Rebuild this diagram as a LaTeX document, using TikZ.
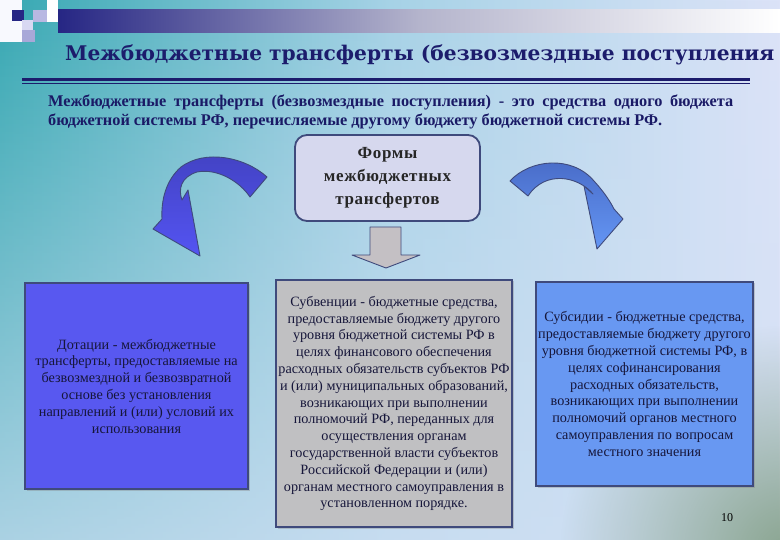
\documentclass[tikz,border=0pt]{standalone}
\usepackage{fontspec}
\setmainfont{Liberation Serif}
\newfontfamily\titlefont{DejaVu Serif}
\newfontfamily\formfont[LetterSpace=4]{Liberation Serif}
\usetikzlibrary{fadings,shadows}
\definecolor{bgL}{HTML}{36A8B2}
\definecolor{bgM}{HTML}{A6D2E6}
\definecolor{bgR}{HTML}{DCE3F8}
\definecolor{bgB}{HTML}{D2E0F4}
\definecolor{bgG}{HTML}{84A088}
\definecolor{navy}{HTML}{262684}
\definecolor{sqA}{HTML}{B8B8E2}
\definecolor{sqB}{HTML}{D8D8F2}
\definecolor{sqC}{HTML}{A8A8D8}
\definecolor{barM}{HTML}{B4B4CC}
\definecolor{titleC}{HTML}{1C1C6C}
\definecolor{paraC}{HTML}{1A1A66}
\definecolor{frameC}{HTML}{3F4A7C}
\definecolor{leftC}{HTML}{5858F0}
\definecolor{midC}{HTML}{C0C0C2}
\definecolor{rightC}{HTML}{6898F2}
\definecolor{formC}{HTML}{D6D8EE}
\definecolor{boxtextC}{HTML}{16163A}
\definecolor{arrLtop}{HTML}{4242C2}
\definecolor{arrLbot}{HTML}{5454F2}
\definecolor{arrRtop}{HTML}{486AC6}
\definecolor{arrRbot}{HTML}{6496F4}
\definecolor{downC}{HTML}{C4C0C4}
\tikzfading[name=cornerfade, inner color=transparent!0, outer color=transparent!100]
\begin{document}
\begin{tikzpicture}[x=1pt,y=-1pt,
  boxframe/.style={draw=frameC, line width=1.6pt, inner sep=0pt,
    drop shadow={shadow xshift=1.5pt, shadow yshift=-1.5pt, opacity=.35}},
  boxtext/.style={font=\fontsize{14.2}{16.8}\selectfont, text=boxtextC, align=center, inner sep=0pt},
  blockarrow/.style={draw=frameC, line width=0.9pt, line join=round}]
\useasboundingbox (0,0) rectangle (780,540);
\begin{scope}
\clip (0,0) rectangle (780,540);
% background
\shade[left color=bgL, right color=bgR, middle color=bgM] (0,0) rectangle (780,540);
\fill[bgB, path fading=north, fill opacity=0.75] (0,0) rectangle (780,540);
\fill[bgG, path fading=cornerfade, fill opacity=0.95] (790,555) circle (230);
% top decoration
\fill[white!80!bgR] (0,0) rectangle (22,42);
\fill[white] (47,0) rectangle (58,22);
\fill[navy] (12,10) rectangle (24,21);
\fill[sqA] (33,10) rectangle (47,22);
\fill[sqB] (22,20) rectangle (33,30);
\fill[sqC] (22,30) rectangle (35,42);
\shade[left color=navy, right color=white, middle color=barM] (58,10) rectangle (780,33);
% title
\node[anchor=base west, inner sep=0pt, text=titleC,
  font=\titlefont\bfseries\fontsize{20.2}{24}\selectfont] (title) at (65,61)
  {Межбюджетные трансферты (безвозмездные поступления};
\coordinate (l1a) at (22,79.5);
\coordinate (l1b) at (750,79.5);
\coordinate (l2a) at (22,83.5);
\coordinate (l2b) at (750,83.5);
\draw[titleC, line width=3pt] (l1a) -- (l1b);
\draw[titleC, line width=1pt] (l2a) -- (l2b);
% definition paragraph
\node[anchor=base west, inner sep=0pt, text=paraC,
  font=\bfseries\fontsize{16.3}{19}\selectfont] (par1) at (48,107)
  {\makebox[685pt][s]{Межбюджетные трансферты (безвозмездные поступления) - это средства одного бюджета}};
\node[anchor=base west, inner sep=0pt, text=paraC,
  font=\bfseries\fontsize{16.3}{19}\selectfont] (par2) at (48,126)
  {бюджетной системы РФ, перечисляемые другому бюджету бюджетной системы РФ.};
% central box
\node[draw=frameC, line width=1.8pt, fill=formC, rounded corners=12pt,
  minimum width=185pt, minimum height=86pt, inner sep=0pt,
  font=\formfont\bfseries\fontsize{17}{23}\selectfont, text=black!85, align=center]
  (forms) at (387.5,178) {Формы\\межбюджетных\\трансфертов};
% down arrow
\filldraw[blockarrow, fill=downC] (370,227) -- (401,227) -- (401,255) -- (420,255)
  -- (386,268) -- (352,255) -- (370,255) -- cycle;
% left curved arrow
\shadedraw[blockarrow, top color=arrLtop, bottom color=arrLbot]
  (267,177) .. controls (245,157) and (205,149) .. (181,167)
  .. controls (166,180) and (161,200) .. (162,219)
  -- (153,229) -- (200,256) -- (188,190) -- (182,200)
  .. controls (178,189) and (181,177) .. (197,172)
  .. controls (218,168) and (240,182) .. (250,197) -- cycle;
% right curved arrow
\shadedraw[blockarrow, top color=arrRtop, bottom color=arrRbot]
  (510,181) .. controls (530,159) and (572,155) .. (594,181)
  .. controls (604,192) and (610,201) .. (614,209)
  -- (623,219) -- (597,249) -- (584,186) -- (593,194)
  .. controls (578,176) and (545,170) .. (528,196) -- cycle;
% three boxes
\node[boxframe, fill=leftC, minimum width=223pt, minimum height=206pt] (dot) at (136.5,386) {};
\node[boxframe, fill=midC, minimum width=236pt, minimum height=247pt] (sub) at (394,403.5) {};
\node[boxframe, fill=rightC, minimum width=217pt, minimum height=204pt] (sbs) at (644.5,384) {};
\node[boxtext] (dotT) at (dot.center) {Дотации - межбюджетные\\трансферты, предоставляемые на\\безвозмездной и безвозвратной\\основе без установления\\направлений и (или) условий их\\использования};
\node[boxtext] (subT) at (sub.center) {Субвенции - бюджетные средства,\\предоставляемые бюджету другого\\уровня бюджетной системы РФ в\\целях финансового обеспечения\\расходных обязательств субъектов РФ\\и (или) муниципальных образований,\\возникающих при выполнении\\полномочий РФ, переданных для\\осуществления органам\\государственной власти субъектов\\Российской Федерации и (или)\\органам местного самоуправления в\\установленном порядке.};
\node[boxtext] (sbsT) at (sbs.center) {Субсидии - бюджетные средства,\\предоставляемые бюджету другого\\уровня бюджетной системы РФ, в\\целях софинансирования\\расходных обязательств,\\возникающих при выполнении\\полномочий органов местного\\самоуправления по вопросам\\местного значения};
% page number
\node[anchor=base, inner sep=0pt, font=\fontsize{12}{14}\selectfont, text=black] (pg) at (727,521) {10};
\end{scope}
\end{tikzpicture}
\end{document}
